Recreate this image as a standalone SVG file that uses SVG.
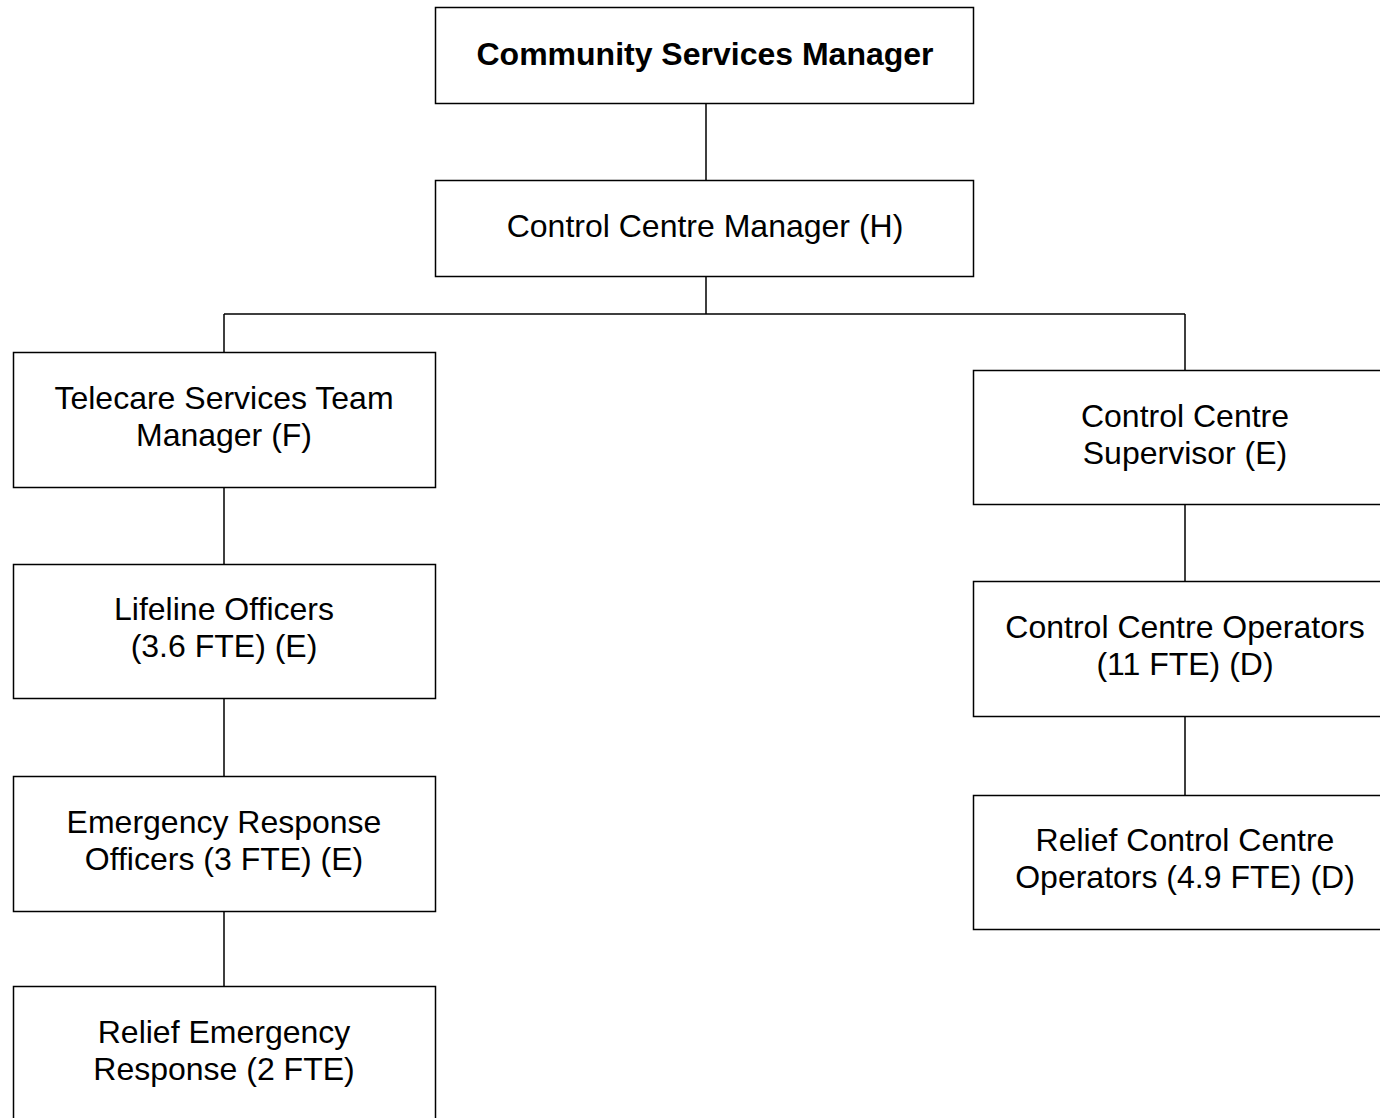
<svg xmlns="http://www.w3.org/2000/svg" width="1380" height="1118" viewBox="0 0 1380 1118">
<style>
.box{fill:#fff;stroke:#000;stroke-width:1.5}
.t{font-family:"Liberation Sans",Arial,sans-serif;font-size:32px;fill:#000;text-anchor:middle}
.b{font-weight:bold}
.c{fill:none;stroke:#000;stroke-width:1.5}
</style>
<rect width="1380" height="1118" fill="#fff"/>
<g id="connectors">
<path class="c" d="M706 103V180M706 276V314M224 314H1185M224 314V352M1185 314V370M224 487V564M224 698V776M224 911V986M1185 504V581M1185 716V795"/>
</g>
<g id="n1"><rect class="box" x="435.5" y="7.5" width="538" height="96"/><text class="t b" x="705" y="65">Community Services Manager</text></g>
<g id="n2"><rect class="box" x="435.5" y="180.5" width="538" height="96"/><text class="t" x="705" y="237">Control Centre Manager (H)</text></g>
<g id="n3"><rect class="box" x="13.5" y="352.5" width="422" height="135"/><text class="t" x="224" y="409">Telecare Services Team</text><text class="t" x="224" y="446">Manager (F)</text></g>
<g id="n4"><rect class="box" x="13.5" y="564.5" width="422" height="134"/><text class="t" x="224" y="620">Lifeline Officers</text><text class="t" x="224" y="657">(3.6 FTE) (E)</text></g>
<g id="n5"><rect class="box" x="13.5" y="776.5" width="422" height="135"/><text class="t" x="224" y="833">Emergency Response</text><text class="t" x="224" y="870">Officers (3 FTE) (E)</text></g>
<g id="n6"><rect class="box" x="13.5" y="986.5" width="422" height="140"/><text class="t" x="224" y="1043">Relief Emergency</text><text class="t" x="224" y="1080">Response (2 FTE)</text></g>
<g id="n7"><rect class="box" x="973.5" y="370.5" width="424" height="134"/><text class="t" x="1185" y="427">Control Centre</text><text class="t" x="1185" y="464">Supervisor (E)</text></g>
<g id="n8"><rect class="box" x="973.5" y="581.5" width="424" height="135"/><text class="t" x="1185" y="638">Control Centre Operators</text><text class="t" x="1185" y="675">(11 FTE) (D)</text></g>
<g id="n9"><rect class="box" x="973.5" y="795.5" width="424" height="134"/><text class="t" x="1185" y="851">Relief Control Centre</text><text class="t" x="1185" y="888">Operators (4.9 FTE) (D)</text></g>
</svg>
